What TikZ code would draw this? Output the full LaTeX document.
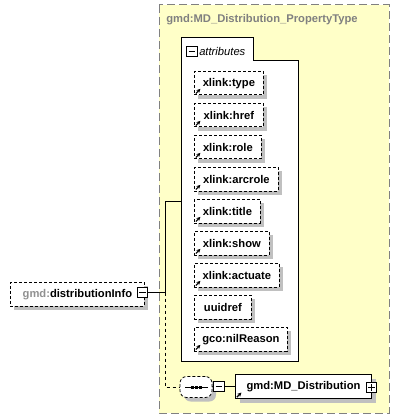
\documentclass[tikz,border=0pt]{standalone}
\usepackage{fontspec}
\setmainfont{Liberation Sans}
\usetikzlibrary{shadows,arrows.meta,calc}
\definecolor{ylw}{RGB}{255,255,200}
\definecolor{shd}{RGB}{192,192,192}
\definecolor{ttl}{RGB}{128,128,128}
\definecolor{pfx}{RGB}{145,145,145}
\newcommand\lnkicon[1]{\draw[line width=0.85pt,-{Stealth[length=3pt,width=3pt]}] ($(#1.south west)+(1.8,-1.8)$) -- ++(4.6,-4.6);}
\tikzset{
  shadowed/.style={drop shadow={fill=shd, opacity=1, shadow xshift=3pt, shadow yshift=-3pt}},
  attr/.style={draw, line width=0.6pt, dash pattern=on 2.25pt off 1.5pt, fill=white,
    minimum height=23.5*0.75pt, inner sep=0pt, anchor=north west, shadowed},
  elem/.style={draw, line width=0.75pt, fill=white, minimum height=24*0.75pt,
    inner sep=0pt, anchor=north west, shadowed},
  pm/.style={draw, line width=0.8pt, fill=white, minimum size=10.5*0.75pt, inner sep=0pt},
  minus/.style={path picture={\draw[line width=0.6pt] ([xshift=1.4pt]path picture bounding box.west) -- ([xshift=-1.4pt]path picture bounding box.east);}},
  plus/.style={path picture={\draw[line width=0.6pt] ([xshift=1.4pt]path picture bounding box.west) -- ([xshift=-1.4pt]path picture bounding box.east) ([yshift=-1.4pt]path picture bounding box.north) -- ([yshift=1.4pt]path picture bounding box.south);}},
  seqbox/.style={draw, line width=0.6pt, dash pattern=on 2.25pt off 1.5pt, fill=white,
    rounded corners=5pt, minimum width=32*0.75pt, minimum height=21*0.75pt, inner sep=0pt, shadowed},
  conn/.style={line width=0.75pt},
  dconn/.style={line width=0.75pt, dash pattern=on 2.25pt off 2.25pt}
}
\begin{document}
\begin{tikzpicture}[x=0.75pt,y=-0.75pt, font=\fontsize{8.4}{10}\selectfont\bfseries]
\useasboundingbox (0,0) rectangle (406,420);
% outer complex type box
\draw[ttl, line width=0.75pt, dash pattern=on 6pt off 3pt, fill=ylw] (159,5) rectangle (389,413);
\node[anchor=west, inner sep=0pt, text=ttl] (title) at (166,19.5) {gmd:MD\_Distribution\_PropertyType};
% attributes frame
\draw[line width=0.75pt, fill=white] (181,38) -- (253,38) -- (253,61) -- (298,61) -- (298,361) -- (181,361) -- cycle;
\node[pm, minus] (attrm) at (192,51.5) {};
\node[anchor=west, inner sep=0pt, font=\fontsize{8.4}{10}\selectfont\mdseries\itshape] (attrl) at (199,51.5) {attributes};
\coordinate (attrin) at (181,201);
% attributes
\node[attr, minimum width=69*0.75pt] (a1) at (194,71) {xlink:type};
\node[attr, minimum width=69*0.75pt] (a2) at (194,103) {xlink:href};
\node[attr, minimum width=67*0.75pt] (a3) at (194,135) {xlink:role};
\node[attr, minimum width=84*0.75pt] (a4) at (194,167) {xlink:arcrole};
\node[attr, minimum width=66*0.75pt] (a5) at (194,199) {xlink:title};
\node[attr, minimum width=75*0.75pt] (a6) at (194,231) {xlink:show};
\node[attr, minimum width=85*0.75pt] (a7) at (194,263) {xlink:actuate};
\node[attr, minimum width=57*0.75pt] (a8) at (194,295) {uuidref};
\node[attr, minimum width=93*0.75pt] (a9) at (194,327) {gco:nilReason};
\lnkicon{a1}\lnkicon{a2}\lnkicon{a3}\lnkicon{a4}\lnkicon{a5}\lnkicon{a6}\lnkicon{a7}\lnkicon{a9}
% element
\node[attr, minimum width=134*0.75pt] (di) at (10,282) {\textcolor{pfx}{gmd:}distributionInfo};
\node[pm, minus] (dim) at (142.5,292.5) {};
% sequence
\node[seqbox] (seq) at (196,387) {};
\draw[line width=0.75pt] ($(seq.center)+(-11,0)$) -- ($(seq.center)+(12,0)$);
\foreach \dx in {-4,0,4} \fill ($(seq.center)+(\dx-1.5,-1.5)$) rectangle ++(3,3);
\node[pm, minus] (seqm) at (219,386.5) {};
% MD_Distribution
\node[elem, minimum width=136*0.75pt] (md) at (235,374) {gmd:MD\_Distribution};
\lnkicon{md}
\node[pm, plus] (mdp) at (371.5,387.5) {};
% connectors
\coordinate (j) at (165,292.5);
\coordinate (j1) at (165,201);
\coordinate (j2) at (165,387);
\draw[conn] (dim.east) -- (j) -- (j1) -- (attrin);
\draw[dconn] (j) -- (j2) -- (seq.west);
\draw[conn] (seq.east) -- (seqm.west);
\draw[conn] (seqm.east) -- (md.west);
\end{tikzpicture}
\end{document}
